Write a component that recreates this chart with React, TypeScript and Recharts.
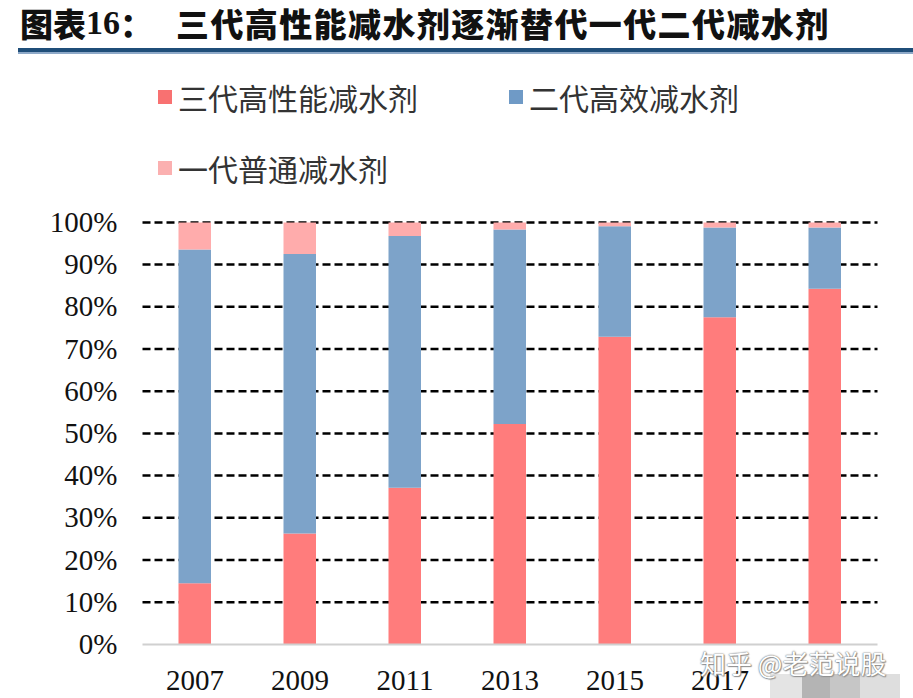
import React from 'react';
import { BarChart, Bar, XAxis, YAxis, CartesianGrid } from 'recharts';

const years = ['2007', '2009', '2011', '2013', '2015', '2017', '2019'];
const thirdGen = [14.5, 26.3, 37.1, 52.2, 72.9, 77.5, 84.3];
const secondGen = [79.1, 66.2, 59.7, 46.1, 26.2, 21.3, 14.5];
const firstGen = [6.4, 7.5, 3.2, 1.7, 0.9, 1.2, 1.2];
const yTicks = [0, 10, 20, 30, 40, 50, 60, 70, 80, 90, 100];
const gridValues = [10, 20, 30, 40, 50, 60, 70, 80, 90, 100];
const hiddenYear = '2019';

const seriesNames = ['三代高性能减水剂', '二代高效减水剂', '一代普通减水剂'];
const colors = ['#FF7C7C', '#7DA3C9', '#FFACAC'];
const legendColors = ['#F87171', '#6F9AC6', '#FBB0B0'];

const data = years.map((y, i) => ({
  year: y,
  third: thirdGen[i],
  second: secondGen[i],
  first: firstGen[i],
}));

const serif = '"Liberation Serif", "DejaVu Serif", serif';
const cjk = '"Noto Sans CJK SC", "Noto Sans", sans-serif';

const YTick = (props: any) => {
  const { x, y, payload } = props;
  return (
    <text x={x} y={y} dy={9.5} textAnchor="end" fontFamily={serif} fontSize={29} fill="#111">
      {payload.value + '%'}
    </text>
  );
};

const XTick = (props: any) => {
  const { x, y, payload } = props;
  // the last category label is covered by the watermark mosaic in the reference
  if (payload.value === hiddenYear) return <g />;
  return (
    <text x={x} y={y} dy={46} textAnchor="middle" fontFamily={serif} fontSize={29} fill="#111">
      {payload.value}
    </text>
  );
};

const LegendItem = ({ color, label, left, top }: { color: string; label: string; left: number; top: number }) => (
  <div style={{ position: 'absolute', left, top, height: 40, display: 'flex', alignItems: 'center' }}>
    <div style={{ width: 14, height: 14, background: color, marginRight: 6 }} />
    <span style={{ fontFamily: cjk, fontSize: 30, color: '#333', fontWeight: 400, lineHeight: '40px' }}>{label}</span>
  </div>
);

export default function App() {
  return (
    <div style={{ position: 'absolute', left: 0, top: 0, width: 913, height: 698, background: '#fff', overflow: 'hidden' }}>
      <BarChart
        width={913}
        height={698}
        data={data}
        margin={{ top: 222.4, right: 35.5, bottom: 23.6, left: 42.5 }}
        barSize={32.5}
      >
        <CartesianGrid
          horizontal={true}
          vertical={false}
          horizontalValues={gridValues}
          stroke="#000"
          strokeWidth={2.5}
          strokeDasharray="8 4"
        />
        <XAxis
          dataKey="year"
          height={30}
          tickLine={false}
          tickSize={0}
          tickMargin={0}
          axisLine={{ stroke: '#D0D0D0', strokeWidth: 2 }}
          tick={<XTick />}
          interval={0}
        />
        <YAxis
          width={100}
          domain={[0, 100]}
          ticks={yTicks}
          axisLine={false}
          tickLine={false}
          tickSize={0}
          tickMargin={25}
          tick={<YTick />}
          interval={0}
        />
        <Bar dataKey="third" stackId="a" fill={colors[0]} isAnimationActive={false} />
        <Bar dataKey="second" stackId="a" fill={colors[1]} isAnimationActive={false} />
        <Bar dataKey="first" stackId="a" fill={colors[2]} isAnimationActive={false} />
      </BarChart>

      {/* Title */}
      <div style={{ position: 'absolute', left: 20, top: 2, height: 42, display: 'flex', alignItems: 'center', whiteSpace: 'nowrap' }}>
        <span style={{ fontFamily: cjk, fontWeight: 900, fontSize: 33, color: '#111' }}>图表</span>
        <span style={{ fontFamily: serif, fontWeight: 700, fontSize: 34, color: '#111' }}>16</span>
        <span style={{ fontFamily: cjk, fontWeight: 900, fontSize: 33, color: '#111', width: 56, display: 'inline-block' }}>：</span>
        <span style={{ fontFamily: cjk, fontWeight: 900, fontSize: 33, color: '#111', letterSpacing: 1.4 }}>三代高性能减水剂逐渐替代一代二代减水剂</span>
      </div>
      <div style={{ position: 'absolute', left: 18, top: 48, width: 895, height: 4, background: '#1F4E79' }} />
      <div style={{ position: 'absolute', left: 18, top: 52, width: 895, height: 2, background: '#8EA9C8' }} />

      {/* Legend */}
      <LegendItem color={legendColors[0]} label={seriesNames[0]} left={158} top={77} />
      <LegendItem color={legendColors[1]} label={seriesNames[1]} left={509} top={77} />
      <LegendItem color={legendColors[2]} label={seriesNames[2]} left={158} top={148} />

      {/* Watermark & mosaic */}
      <div style={{ position: 'absolute', left: 770, top: 674, width: 32, height: 24, background: '#E4E4E4' }} />
      <div style={{ position: 'absolute', left: 802, top: 674, width: 28, height: 24, background: '#B4B4B4' }} />
      <div style={{ position: 'absolute', left: 830, top: 674, width: 30, height: 24, background: '#C6C6C6' }} />
      <div style={{ position: 'absolute', left: 860, top: 674, width: 40, height: 24, background: '#DEDEDE' }} />
      <div
        style={{
          position: 'absolute',
          left: 700,
          top: 644,
          fontFamily: cjk,
          fontSize: 26,
          color: '#FFFFFF',
          whiteSpace: 'nowrap',
          textShadow: '0 0 1px #666, 0 0 2px #888, 1px 1px 1px #999',
        }}
      >
        知乎 @老范说股
      </div>
    </div>
  );
}
